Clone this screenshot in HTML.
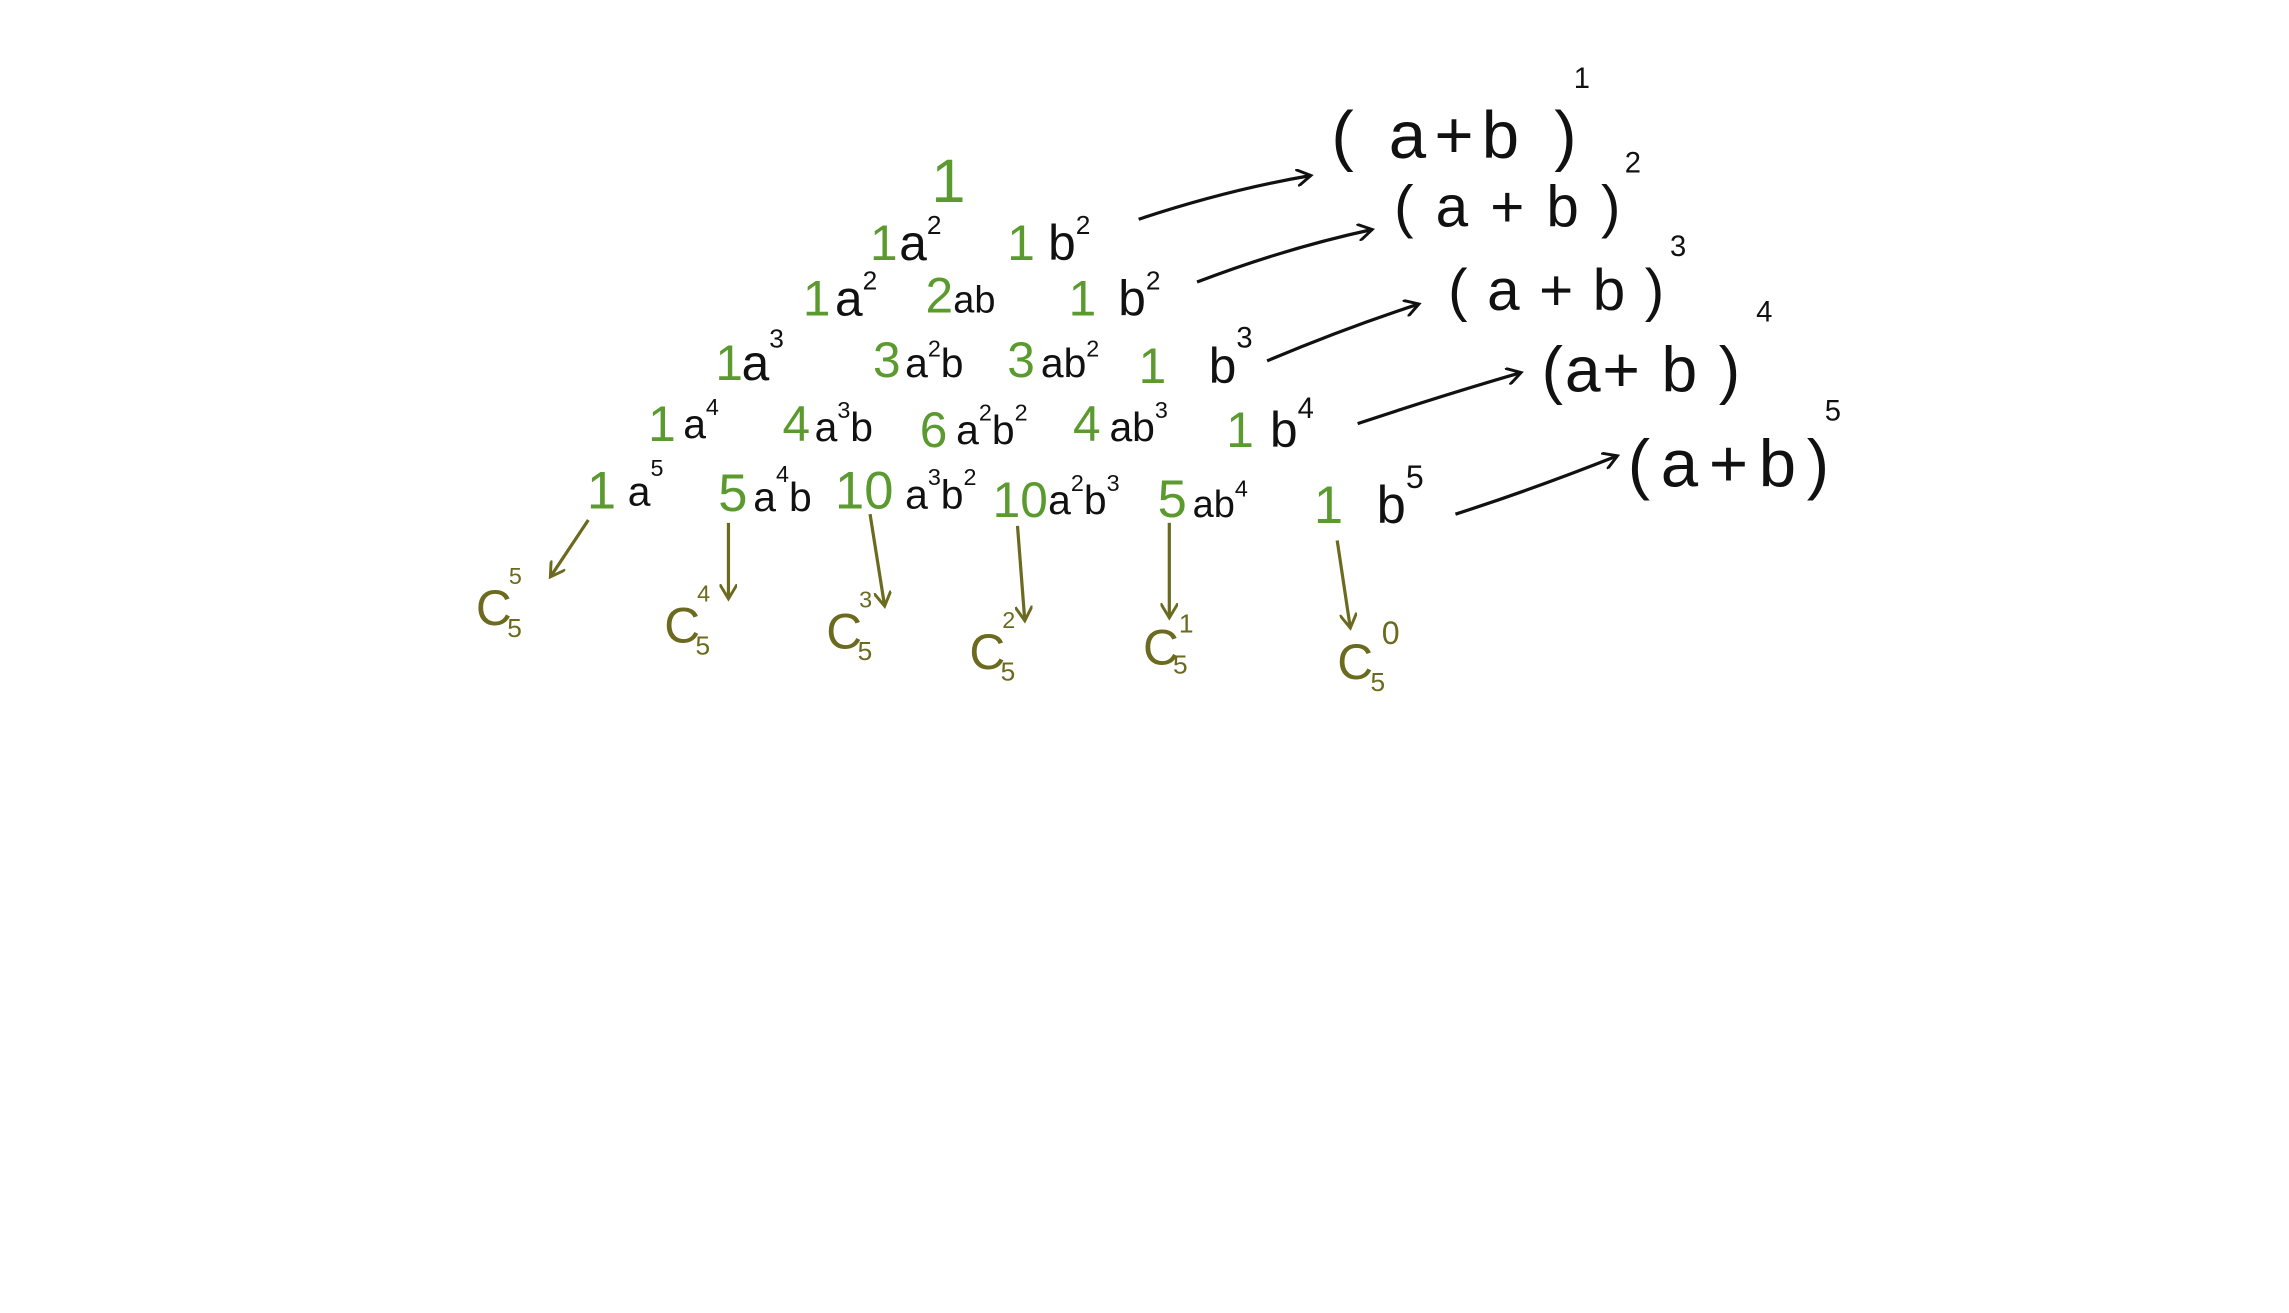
<!DOCTYPE html>
<html><head><meta charset="utf-8"><style>
html,body{margin:0;padding:0;background:#fff}
svg{display:block}
text{font-family:"Liberation Sans",sans-serif}
.g{fill:#5b9a2e}.k{fill:#111}.o{fill:#6b6a1e}
</style></head><body>
<svg width="2289" height="1313" viewBox="0 0 1568 899" xmlns="http://www.w3.org/2000/svg">
<defs>
<marker id="ak" markerWidth="12" markerHeight="12" refX="10" refY="6" orient="auto" markerUnits="userSpaceOnUse"><path d="M0,0 L10,6 L0,12" fill="none" stroke="#111" stroke-width="2"/></marker>
<marker id="ao" markerWidth="12" markerHeight="12" refX="10" refY="6" orient="auto" markerUnits="userSpaceOnUse"><path d="M0,0 L10,6 L0,12" fill="none" stroke="#6b6a1e" stroke-width="2"/></marker>
</defs>
<g font-size="42">
<text class="g" x="638" y="138">1</text>
</g>
<g font-size="34">
<text class="g" x="596" y="178">1</text><text class="k" x="616" y="178">a<tspan font-size="18" dy="-18">2</tspan></text>
<text class="g" x="690" y="178">1</text><text class="k" x="718" y="178">b<tspan font-size="18" dy="-18">2</tspan></text>
</g>
<g font-size="34">
<text class="g" x="550" y="216">1</text><text class="k" x="572" y="216">a<tspan font-size="18" dy="-18">2</tspan></text>
<text class="g" x="634" y="214">2</text><text class="k" x="653" y="214" font-size="26">ab</text>
<text class="g" x="732" y="216">1</text><text class="k" x="766" y="216">b<tspan font-size="18" dy="-18">2</tspan></text>
</g>
<g font-size="34">
<text class="g" x="490" y="260">1</text><text class="k" x="508" y="260">a<tspan font-size="18" dy="-22">3</tspan></text>
<text class="g" x="598" y="258">3</text><text class="k" x="620" y="258" font-size="28">a<tspan font-size="16" dy="-14">2</tspan><tspan dy="14">b</tspan></text>
<text class="g" x="690" y="258">3</text><text class="k" x="713" y="258" font-size="28">ab<tspan font-size="16" dy="-14">2</tspan></text>
<text class="g" x="780" y="262">1</text><text class="k" x="828" y="262">b<tspan font-size="20" dy="-24">3</tspan></text>
</g>
<g font-size="34">
<text class="g" x="444" y="302">1</text><text class="k" x="468" y="300" font-size="28">a<tspan font-size="16" dy="-16">4</tspan></text>
<text class="g" x="536" y="302">4</text><text class="k" x="558" y="302" font-size="28">a<tspan font-size="16" dy="-16">3</tspan><tspan dy="16">b</tspan></text>
<text class="g" x="630" y="306">6</text><text class="k" x="655" y="304" font-size="28">a<tspan font-size="16" dy="-16">2</tspan><tspan dy="16">b</tspan><tspan font-size="16" dy="-16">2</tspan></text>
<text class="g" x="735" y="302">4</text><text class="k" x="760" y="302" font-size="28">ab<tspan font-size="16" dy="-16">3</tspan></text>
<text class="g" x="840" y="306">1</text><text class="k" x="870" y="306">b<tspan font-size="20" dy="-20">4</tspan></text>
</g>
<g font-size="36">
<text class="g" x="402" y="348">1</text><text class="k" x="430" y="346" font-size="28">a<tspan font-size="16" dy="-20">5</tspan></text>
<text class="g" x="492" y="350">5</text><text class="k" x="516" y="350" font-size="28">a<tspan font-size="16" dy="-20">4</tspan><tspan dy="20">b</tspan></text>
<text class="g" x="572" y="348">10</text><text class="k" x="620" y="348" font-size="28">a<tspan font-size="16" dy="-16">3</tspan><tspan dy="16">b</tspan><tspan font-size="16" dy="-16">2</tspan></text>
<text class="g" x="680" y="354" font-size="34">10</text><text class="k" x="718" y="352" font-size="28">a<tspan font-size="16" dy="-16">2</tspan><tspan dy="16">b</tspan><tspan font-size="16" dy="-16">3</tspan></text>
<text class="g" x="793" y="354">5</text><text class="k" x="817" y="354" font-size="26">ab<tspan font-size="16" dy="-14">4</tspan></text>
<text class="g" x="900" y="358">1</text><text class="k" x="943" y="358">b<tspan font-size="22" dy="-24">5</tspan></text>
</g>
<g class="k">
<text x="912" y="108" font-size="46" textLength="168" lengthAdjust="spacing">( a+b )</text><text x="1078" y="60" font-size="20">1</text>
<text x="955" y="155" font-size="40" textLength="155" lengthAdjust="spacing">( a + b )</text><text x="1113" y="118" font-size="20">2</text>
<text x="992" y="212" font-size="40" textLength="148" lengthAdjust="spacing">( a + b )</text><text x="1144" y="175" font-size="20">3</text>
<text x="1056" y="268" font-size="44" textLength="136" lengthAdjust="spacing">(a+ b )</text><text x="1203" y="220" font-size="20">4</text>
<text x="1115" y="333" font-size="46" textLength="138" lengthAdjust="spacing">(a+b)</text><text x="1250" y="288" font-size="20">5</text>
</g>
<g stroke="#111" stroke-width="2.2" fill="none">
<path d="M780,150 Q840,130 898,120" marker-end="url(#ak)"/>
<path d="M820,193 Q880,170 940,157" marker-end="url(#ak)"/>
<path d="M868,247 Q920,225 972,208" marker-end="url(#ak)"/>
<path d="M930,290 Q990,270 1042,255" marker-end="url(#ak)"/>
<path d="M997,352 Q1050,335 1108,312" marker-end="url(#ak)"/>
</g>
<g stroke="#6b6a1e" stroke-width="2.2" fill="none">
<path d="M403,356 L377,395" marker-end="url(#ao)"/>
<path d="M499,358 L499,410" marker-end="url(#ao)"/>
<path d="M596,352 L606,415" marker-end="url(#ao)"/>
<path d="M697,360 L702,425" marker-end="url(#ao)"/>
<path d="M801,358 L801,423" marker-end="url(#ao)"/>
<path d="M916,370 L925,430" marker-end="url(#ao)"/>
</g>
<g class="o" font-size="34">
<text x="326" y="428">C<tspan font-size="16" dx="-2" dy="-28">5</tspan><tspan font-size="18" dx="-10" dy="36">5</tspan></text>
<text x="455" y="440">C<tspan font-size="16" dx="-2" dy="-28">4</tspan><tspan font-size="18" dx="-10" dy="36">5</tspan></text>
<text x="566" y="444">C<tspan font-size="16" dx="-2" dy="-28">3</tspan><tspan font-size="18" dx="-10" dy="36">5</tspan></text>
<text x="664" y="458">C<tspan font-size="16" dx="-2" dy="-28">2</tspan><tspan font-size="18" dx="-10" dy="36">5</tspan></text>
<text x="783" y="455">C<tspan font-size="18" dx="0" dy="-22">1</tspan><tspan font-size="18" dx="-14" dy="28">5</tspan></text>
<text x="916" y="465">C<tspan font-size="22" dx="6" dy="-24">0</tspan><tspan font-size="18" dx="-20" dy="32">5</tspan></text>
</g>
</svg>
</body></html>
